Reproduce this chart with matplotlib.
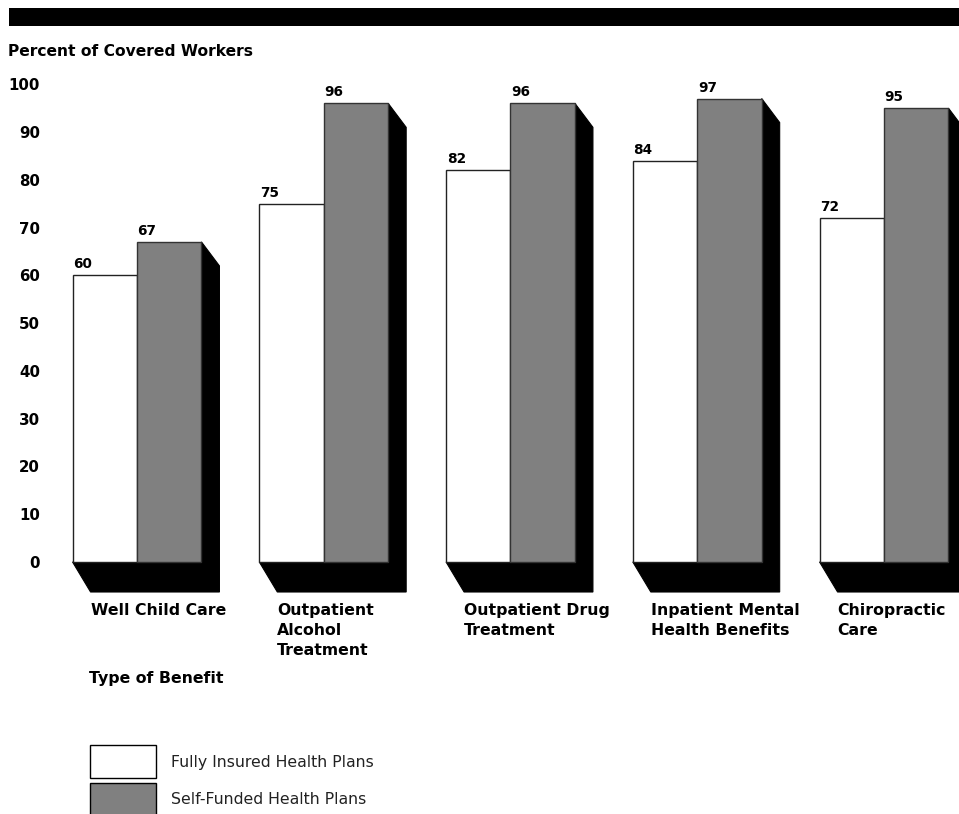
import numpy as np
import matplotlib
matplotlib.use("Agg")
import matplotlib.pyplot as plt
from matplotlib.patches import Polygon, Rectangle

plt.rcParams['font.family'] = ['DejaVu Sans']

# 数据
categories = ["Well Child Care", "Outpatient\nAlcohol\nTreatment", "Outpatient Drug\nTreatment",
              "Inpatient Mental\nHealth Benefits", "Chiropractic\nCare"]
fully_insured = [60, 75, 82, 84, 72]
self_funded = [67, 96, 96, 97, 95]
y_ticks = [0, 10, 20, 30, 40, 50, 60, 70, 80, 90, 100]
series_names = ["Fully Insured Health Plans", "Self-Funded Health Plans"]

W, H = 959, 814
fig = plt.figure(figsize=(W / 100, H / 100), dpi=100)

# 坐标轴位置（像素换算）
px_unit = 4.778          # 每个百分点的像素
group_px = 186.75        # 每组间距像素
x0_px, y0_px = 137, 562  # 第一组中心、0 值位置
xlim = (-0.5, 4.4)
ylim = (-10, 105)
left = x0_px + xlim[0] * group_px
right = x0_px + xlim[1] * group_px
bottom = y0_px - ylim[0] * px_unit
top = y0_px - ylim[1] * px_unit
ax = fig.add_axes([left / W, 1 - bottom / H, (right - left) / W, (bottom - top) / H])
ax.set_xlim(*xlim)
ax.set_ylim(*ylim)
for s in ax.spines.values():
    s.set_visible(False)
ax.set_xticks([])
ax.set_yticks(y_ticks)
ax.set_yticklabels([str(v) for v in y_ticks], fontsize=10.8, fontweight='bold')
ax.tick_params(axis='y', length=0, pad=2.6)
ax.patch.set_alpha(0)

bw = 0.345
dx = 18 / group_px
dy_b = 30 / px_unit
dy_t = 24 / px_unit
gray = '#808080'

for i, (a, b) in enumerate(zip(fully_insured, self_funded)):
    xl, xr = i - bw, i + bw
    # 阴影
    shadow = Polygon([(xl, 0), (xl + dx, -dy_b), (xr + dx, -dy_b),
                      (xr + dx, b - dy_t), (xr, b), (xr, 0)],
                     closed=True, facecolor='black', edgecolor='black',
                     linewidth=0.8, zorder=1, clip_on=False)
    ax.add_patch(shadow)
    ax.bar(i - bw / 2, a, width=bw, color='white', edgecolor='#222222', linewidth=1.0, zorder=2)
    ax.bar(i + bw / 2, b, width=bw, color=gray, edgecolor='#333333', linewidth=1.0, zorder=2)
    ax.text(xl + 0.003, a + 0.8, str(a), fontsize=9.8, fontweight='bold', ha='left', va='bottom')
    ax.text(i + 0.003, b + 0.8, str(b), fontsize=9.8, fontweight='bold', ha='left', va='bottom')
    ax.text(xl + dx, -8.6, categories[i], fontsize=11.3, fontweight='bold',
            ha='left', va='top', linespacing=1.4, clip_on=False)

# 顶部黑条
fig.patches.append(Rectangle((9 / W, 1 - 26 / H), 1 - 9 / W, 18.5 / H,
                             transform=fig.transFigure, facecolor='black', edgecolor='none'))

fig.text(8 / W, 1 - 52 / H, "Percent of Covered Workers", fontsize=11.2, fontweight='bold',
         ha='left', va='center')
fig.text(89 / W, 1 - 679 / H, "Type of Benefit", fontsize=11.3, fontweight='bold',
         ha='left', va='center')

# 图例
fig.patches.append(Rectangle((90 / W, 1 - 777.5 / H), 65.5 / W, 32.5 / H,
                             transform=fig.transFigure, facecolor='white', edgecolor='black', linewidth=1.0))
fig.patches.append(Rectangle((90 / W, 1 - 820 / H), 65.5 / W, 37 / H,
                             transform=fig.transFigure, facecolor=gray, edgecolor='black', linewidth=1.0))
fig.text(171 / W, 1 - 763 / H, series_names[0], fontsize=11.3, ha='left', va='center', color='#222222')
fig.text(171 / W, 1 - 800 / H, series_names[1], fontsize=11.3, ha='left', va='center', color='#222222')

fig.savefig("out.png", dpi=100)
